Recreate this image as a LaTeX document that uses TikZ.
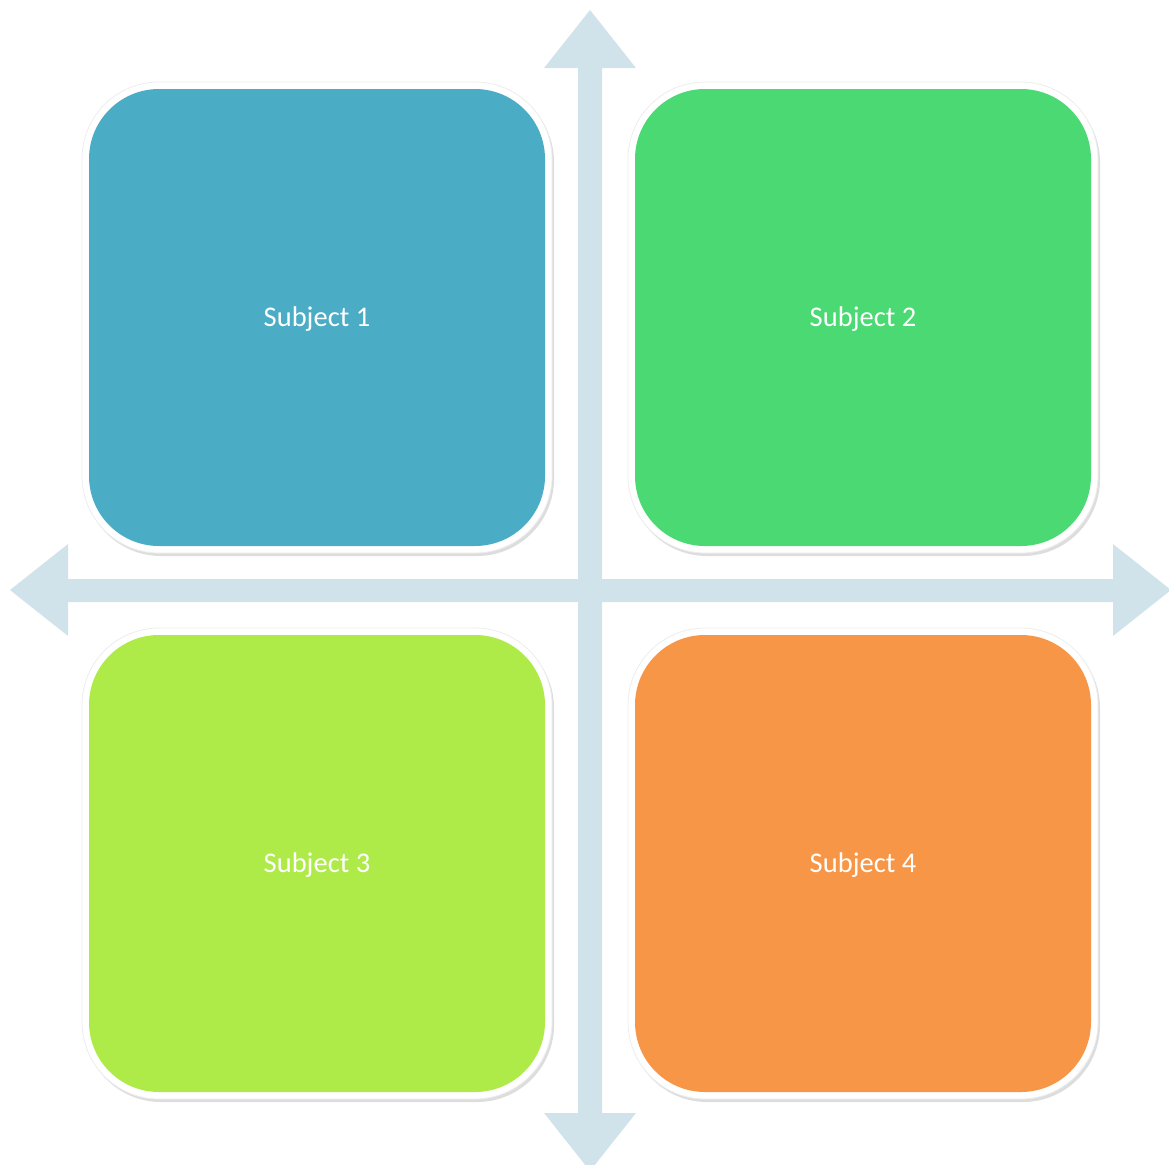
\documentclass[tikz,border=0pt]{standalone}
\usepackage{fontspec}
\setmainfont{Carlito}
\usetikzlibrary{shadows}
\definecolor{axiscol}{HTML}{D1E3EA}
\definecolor{cblue}{HTML}{4BACC6}
\definecolor{cgreen}{HTML}{4AD972}
\definecolor{clime}{HTML}{AEEA48}
\definecolor{corange}{HTML}{F79646}
\tikzset{
  frame/.style={fill=white, draw=black!7, line width=0.8pt, rounded corners=77pt,
    drop shadow={shadow xshift=2pt, shadow yshift=-3pt, opacity=0.22, fill=black!60}},
  tile/.style={rounded corners=70pt},
  lbl/.style={text=white, font=\fontsize{28.5}{34}\selectfont, inner sep=0pt}
}
\begin{document}
\begin{tikzpicture}[x=1pt,y=-1pt]
\useasboundingbox (0,0) rectangle (1169,1164);
\clip (0,0) rectangle (1169,1164);
% axes
\fill[axiscol] (590,10) -- (636,68) -- (602,68) -- (602,1113) -- (636,1113) -- (590,1171)
  -- (544,1113) -- (578,1113) -- (578,68) -- (544,68) -- cycle;
\fill[axiscol] (10,590) -- (68,544) -- (68,579) -- (1113,579) -- (1113,544) -- (1171,590)
  -- (1113,636) -- (1113,602) -- (68,602) -- (68,636) -- cycle;
% tiles
\foreach \x/\y/\c/\n in {89/89/cblue/1, 635/89/cgreen/2, 89/635/clime/3, 635/635/corange/4}{
  \path[frame] (\x-7,\y-7) rectangle (\x+463,\y+464);
  \fill[tile,\c] (\x,\y) rectangle (\x+456,\y+457);
  \node[lbl] (s\n) at (\x+228,\y+230) {Subject \n};
}
\end{tikzpicture}
\end{document}
